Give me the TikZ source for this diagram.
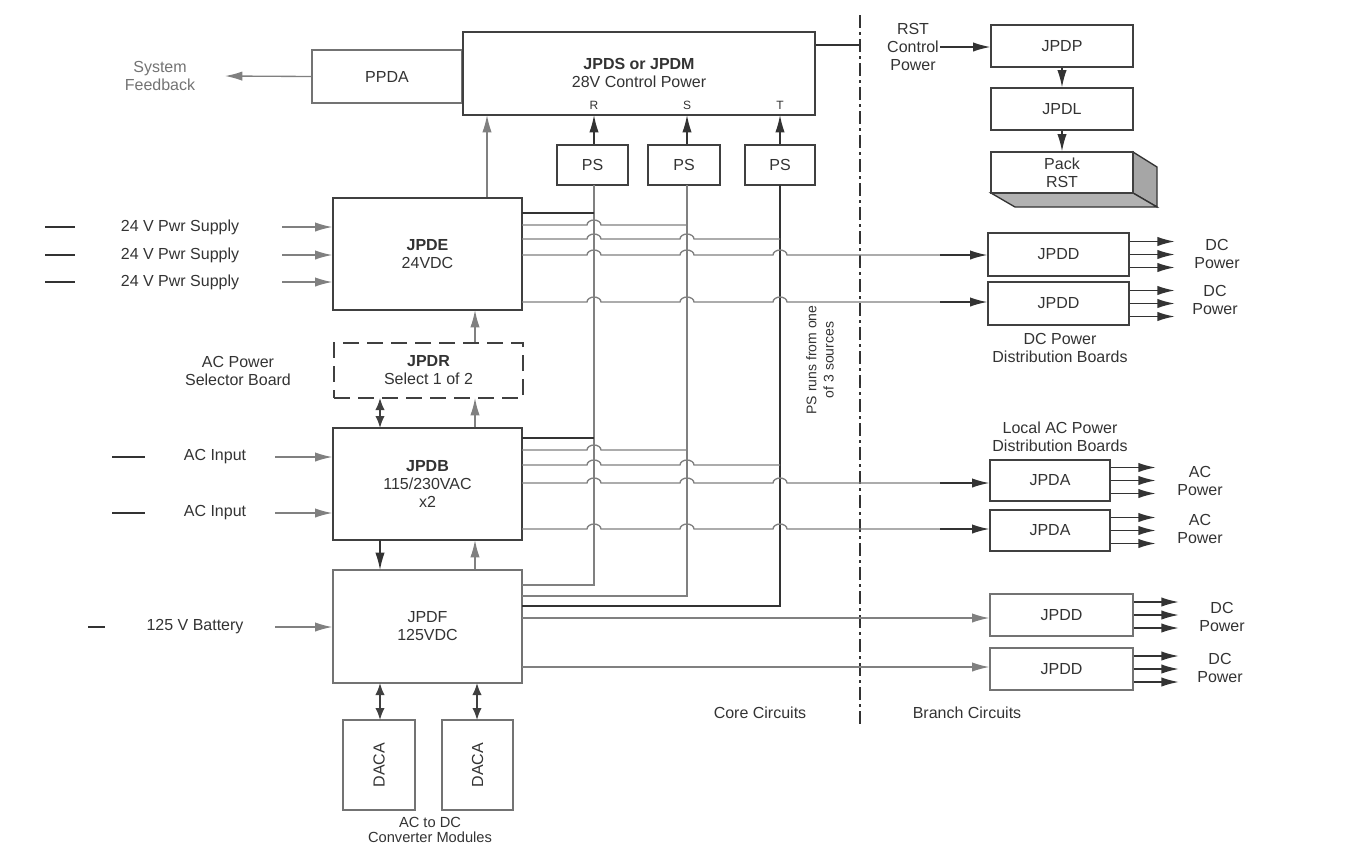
\documentclass[tikz,border=0pt]{standalone}
\usepackage{fontspec}
\setmainfont{Liberation Sans}
\usetikzlibrary{arrows.meta}
\begin{document}
\begin{tikzpicture}[x=0.75pt,y=-0.75pt,
 every node/.style={font=\fontsize{12}{13.5}\selectfont, text=black!80},
 box/.style={draw=black!75, line width=1pt, fill=white, inner sep=0pt, align=center},
 gbox/.style={box, draw=black!55},
 ar/.style={-{Latex[length=13pt,width=7pt]}, line width=1pt, black!80},
 gar/.style={-{Latex[length=13pt,width=7pt]}, line width=1pt, black!50},
 dar/.style={{Latex[length=9pt,width=7pt]}-{Latex[length=9pt,width=7pt]}, line width=1.2pt, black!75},
 gl/.style={line width=1pt, black!50},
 bl/.style={line width=1pt, black!80},
 lab/.style={align=center, inner sep=0pt}]
\useasboundingbox (0,0) rectangle (1356,844);
\newcommand\jline[5]{\draw[#5] (#2,#1) foreach \j in {#3}{ -- (\j-7,#1) arc[start angle=180,end angle=360,x radius=7,y radius=5]} -- (#4,#1);}
% top boxes
\node[gbox, minimum width=150*0.75pt, minimum height=53*0.75pt] (ppda) at (387,76.5) {PPDA};
\node[box, minimum width=352*0.75pt, minimum height=83*0.75pt] (jpds) at (639,73.5) {};
\node[lab] (jpdst) at (639,73) {\textbf{JPDS or JPDM}\\28V Control Power};
\node[lab,font=\fontsize{9}{10}\selectfont] (lr) at (594,105) {R};
\node[lab,font=\fontsize{9}{10}\selectfont] (ls) at (687,105) {S};
\node[lab,font=\fontsize{9}{10}\selectfont] (lt) at (780,105) {T};
\node[box, minimum width=71*0.75pt, minimum height=40*0.75pt] (psr) at (592.5,165) {PS};
\node[box, minimum width=72*0.75pt, minimum height=40*0.75pt] (pss) at (684,165) {PS};
\node[box, minimum width=70*0.75pt, minimum height=40*0.75pt] (pst) at (780,165) {PS};
\node[lab, text=black!55] (sf) at (160,76) {System\\Feedback};
\draw[gar] (ppda.west) -- (225,76);
\draw[ar] (psr.north -| 594,0) -- (594,115);
\draw[ar] (pss.north -| 687,0) -- (687,115);
\draw[ar] (pst.north -| 780,0) -- (780,115);
% main boxes
\node[box, minimum width=189*0.75pt, minimum height=112*0.75pt] (jpde) at (427.5,254) {\textbf{JPDE}\\24VDC};
\node[box, dashed, dash pattern=on 12pt off 6pt, line width=2pt, minimum width=189*0.75pt, minimum height=55*0.75pt] (jpdr) at (428.5,370.5) {\textbf{JPDR}\\Select 1 of 2};
\node[box, minimum width=189*0.75pt, minimum height=112*0.75pt] (jpdb) at (427.5,484) {\textbf{JPDB}\\115/230VAC\\x2};
\node[gbox, minimum width=189*0.75pt, minimum height=113*0.75pt] (jpdf) at (427.5,626.5) {JPDF\\125VDC};
\node[gbox, minimum width=72*0.75pt, minimum height=90*0.75pt] (daca1) at (379,765) {\rotatebox{90}{DACA}};
\node[gbox, minimum width=71*0.75pt, minimum height=90*0.75pt] (daca2) at (477.5,765) {\rotatebox{90}{DACA}};
\node[lab, font=\fontsize{11}{11.5}\selectfont] (acdc) at (430,830) {AC to DC\\Converter Modules};
\node[lab] (acsel) at (238,371) {AC Power\\Selector Board};
\draw[gar] (jpde.north -| 487,0) -- (487,115);
\draw[gar] (jpdr.north -| 475,0) -- (475,310);
\draw[gar] (jpdb.north -| 475,0) -- (475,398);
\draw[dar] (380,398) -- (380,428);
\draw[ar] (380,540) -- (380,570);
\draw[gar] (jpdf.north -| 475,0) -- (475,540);
\draw[dar] (380,683) -- (380,720);
\draw[dar] (477,683) -- (477,720);
% left inputs
\foreach \y/\n in {227/a,255/b,282/c}{
 \node[lab] (ps\n) at (180,\y) {24 V Pwr Supply};
 \draw[bl] (45,\y) -- (75,\y);
 \draw[gar] (282,\y) -- (jpde.west |- 0,\y);}
\foreach \y/\n in {457/a,513/b}{
 \node[lab] (ac\n) at (215,\y) {AC Input};
 \draw[bl] (112,\y) -- (145,\y);
 \draw[gar] (275,\y) -- (jpdb.west |- 0,\y);}
\node[lab] (bat) at (195,627) {125 V Battery};
\draw[bl] (88,627) -- (105,627);
\draw[gar] (275,627) -- (jpdf.west |- 0,627);
% verticals
\draw[gl] (594,185) -- (594,585) -- (522,585);
\draw[gl] (687,185) -- (687,596) -- (522,596);
\draw[bl] (780,185) -- (780,606) -- (522,606);
\node[lab, rotate=90, font=\fontsize{10.5}{13}\selectfont] (psrun) at (820,360) {PS runs from one\\of 3 sources};
% right side boxes
\node[box, minimum width=142*0.75pt, minimum height=42*0.75pt] (jpdp) at (1062,46) {JPDP};
\node[box, minimum width=142*0.75pt, minimum height=42*0.75pt] (jpdl) at (1062,109) {JPDL};
\fill[black!35, draw=black!80, line width=1pt] (1133,152) -- (1157,167) -- (1157,207) -- (1133,193) -- cycle;
\fill[black!30, draw=black!80, line width=1pt] (991,193) -- (1133,193) -- (1157,207) -- (1015,207) -- cycle;
\node[box, minimum width=142*0.75pt, minimum height=41*0.75pt] (pack) at (1062,172.5) {Pack\\RST};
\draw[ar] (jpdp) -- (jpdl);
\draw[ar] (jpdl) -- (pack);
\node[lab] (rstcp) at (913,47) {RST\\Control\\Power};
\draw[bl] (jpds.east |- 0,45) -- (860,45);
\draw[ar] (940,47) -- (jpdp.west |- 0,47);
\draw[line width=2pt, black!80, dash pattern=on 10pt off 3pt on 2pt off 3pt] (860,15) -- (860,725);
\node[box, minimum width=141*0.75pt, minimum height=43*0.75pt] (d1) at (1058.5,254.5) {JPDD};
\node[box, minimum width=141*0.75pt, minimum height=43*0.75pt] (d2) at (1058.5,303.5) {JPDD};
\node[box, minimum width=120*0.75pt, minimum height=41*0.75pt] (a1) at (1050,480.5) {JPDA};
\node[box, minimum width=120*0.75pt, minimum height=41*0.75pt] (a2) at (1050,530.5) {JPDA};
\node[gbox, minimum width=143*0.75pt, minimum height=42*0.75pt] (d3) at (1061.5,615) {JPDD};
\node[gbox, minimum width=143*0.75pt, minimum height=42*0.75pt] (d4) at (1061.5,669) {JPDD};
\foreach \n/\l in {d1/DC,d2/DC,a1/AC,a2/AC,d3/DC,d4/DC}{
 \foreach \o in {-13,0,13}{\draw[ar] ([yshift=\o*0.75pt]\n.east) -- ++(45,0);}}
\node[lab] (l1) at (1217,254) {DC\\Power};
\node[lab] (l2) at (1215,300) {DC\\Power};
\node[lab] (l3) at (1200,481) {AC\\Power};
\node[lab] (l4) at (1200,529) {AC\\Power};
\node[lab] (l5) at (1222,617) {DC\\Power};
\node[lab] (l6) at (1220,668) {DC\\Power};
\node[lab] (dcb) at (1060,348) {DC Power\\Distribution Boards};
\node[lab] (acb) at (1060,437) {Local AC Power\\Distribution Boards};
\node[lab] (core) at (760,713) {Core Circuits};
\node[lab] (branch) at (967,713) {Branch Circuits};
% horizontal distribution lines
\draw[bl] (522,213) -- (594,213);
\jline{225}{522}{594}{687}{gl}
\jline{239}{522}{594,687}{780}{gl}
\jline{255}{522}{594,687,780}{970}{gl}
\draw[ar] (940,255) -- (d1.west |- 0,255);
\jline{302}{522}{594,687,780}{970}{gl}
\draw[ar] (940,302) -- (d2.west |- 0,302);
\draw[bl] (522,438) -- (594,438);
\jline{450}{522}{594}{687}{gl}
\jline{465}{522}{594,687}{780}{gl}
\jline{483}{522}{594,687,780}{970}{gl}
\draw[ar] (940,483) -- (a1.west |- 0,483);
\jline{529}{522}{594,687,780}{970}{gl}
\draw[ar] (940,529) -- (a2.west |- 0,529);
\draw[gl] (522,618) -- (970,618);
\draw[gar] (940,618) -- (d3.west |- 0,618);
\draw[gl] (522,667) -- (970,667);
\draw[gar] (940,667) -- (d4.west |- 0,667);
\end{tikzpicture}
\end{document}
